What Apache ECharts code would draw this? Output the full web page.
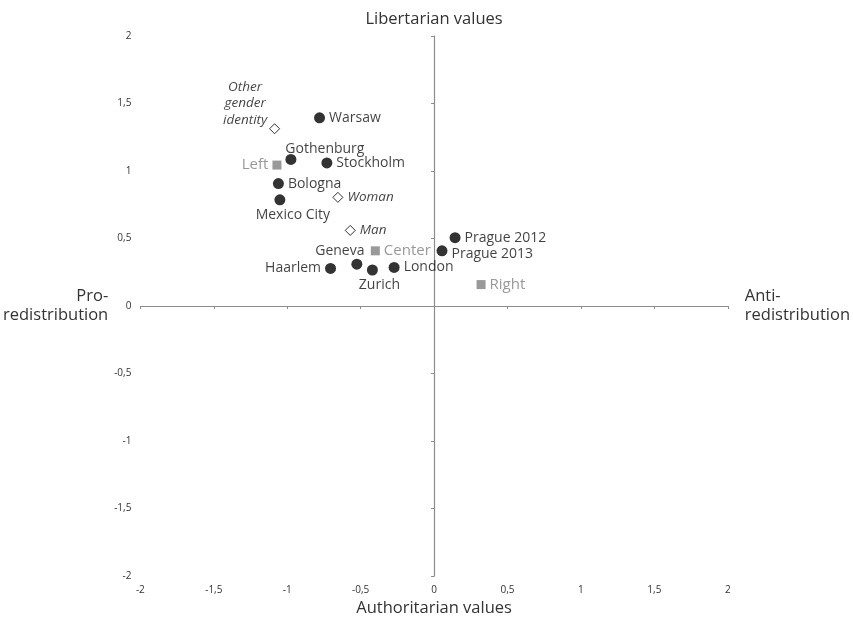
<!DOCTYPE html>
<html>
<head>
<meta charset="utf-8">
<script src="https://cdn.jsdelivr.net/npm/echarts@6/dist/echarts.min.js"></script>
<style>
html,body{margin:0;padding:0;background:#fff;}
#chart{position:absolute;left:0;top:0;width:853px;height:622px;}
</style>
</head>
<body>
<div id="chart"></div>
<script>
// ---- data ----
const cityNames = ["Warsaw","Gothenburg","Stockholm","Bologna","Mexico City","Haarlem","Geneva","Zurich","London","Prague 2012","Prague 2013"];
const cityX = [-0.78,-0.975,-0.73,-1.06,-1.05,-0.705,-0.526,-0.42,-0.272,0.143,0.054];
const cityY = [1.394,1.086,1.06,0.907,0.787,0.279,0.31,0.267,0.286,0.506,0.409];

const partyNames = ["Left","Center","Right"];
const partyX = [-1.07,-0.40,0.32];
const partyY = [1.044,0.409,0.159];

const genderNames = ["Other\ngender\nidentity","Woman","Man"];
const genderX = [-1.086,-0.655,-0.571];
const genderY = [1.313,0.805,0.56];

const axisMin = -2, axisMax = 2, axisStep = 0.5;

// ---- label layout (not data) ----
const labelLayout = {
  "Warsaw": {position:"right"},
  "Gothenburg": {position:"top", offset:[34,6]},
  "Stockholm": {position:"right"},
  "Bologna": {position:"right"},
  "Mexico City": {position:"bottom", offset:[13,-1]},
  "Haarlem": {position:"left"},
  "Geneva": {position:"top", offset:[-17,3]},
  "Zurich": {position:"bottom", offset:[7,-1]},
  "London": {position:"right"},
  "Prague 2012": {position:"right"},
  "Prague 2013": {position:"right", offset:[0,3]},
  "Left": {position:"left"},
  "Center": {position:"right"},
  "Right": {position:"right"},
  "Other\ngender\nidentity": {position:[-24,-20], align:"center", verticalAlign:"middle", lineHeight:16.5},
  "Woman": {position:"right"},
  "Man": {position:"right"}
};

function build(names, xs, ys){
  return names.map((n,i)=>{
    const lab = Object.assign({show:true}, labelLayout[n]||{});
    return {name:n, value:[xs[i], ys[i]], label:lab};
  });
}

const fontFam = "'Open Sans', 'DejaVu Sans', sans-serif";
const fmt = v => String(v).replace('.', ',');
const axisGray = '#8c8c8c';

const chart = echarts.init(document.getElementById('chart'));
chart.setOption({
  animation:false,
  backgroundColor:'#fff',
  grid:{left:140, width:588, top:36, height:545, containLabel:false},
  xAxis:[
    { type:'value', min:axisMin, max:axisMax, interval:axisStep, position:'bottom',
      axisLine:{show:false, onZero:false}, axisTick:{show:false}, splitLine:{show:false},
      axisLabel:{formatter:fmt, fontSize:10, color:'#333', margin:9, fontFamily:fontFam},
      name:'Authoritarian values', nameLocation:'middle', nameGap:22,
      nameTextStyle:{fontSize:16.5, color:'#333', fontFamily:fontFam}
    },
    { type:'value', min:axisMin, max:axisMax, interval:axisStep, position:'top',
      axisLine:{show:true, onZero:true, onZeroAxisIndex:0, lineStyle:{color:axisGray, width:1.2}},
      axisTick:{show:true, inside:true, length:3, lineStyle:{color:axisGray}},
      axisLabel:{show:false}, splitLine:{show:false},
      name:'Anti-\nredistribution', nameLocation:'end', nameGap:17,
      nameTextStyle:{fontSize:16.5, color:'#333', fontFamily:fontFam, align:'left', verticalAlign:'middle', lineHeight:19}
    }
  ],
  yAxis:[
    { type:'value', min:axisMin, max:axisMax, interval:axisStep, position:'left',
      axisLine:{show:false, onZero:false}, axisTick:{show:false}, splitLine:{show:false},
      axisLabel:{formatter:fmt, fontSize:10, color:'#333', margin:9, fontFamily:fontFam},
      name:'Pro-\nredistribution', nameLocation:'middle', nameGap:27, nameRotate:0,
      nameTextStyle:{fontSize:16.5, color:'#333', fontFamily:fontFam, align:'right', verticalAlign:'middle', lineHeight:19}
    },
    { type:'value', min:axisMin, max:axisMax, interval:axisStep, position:'right',
      axisLine:{show:true, onZero:true, onZeroAxisIndex:0, lineStyle:{color:axisGray, width:1.2}},
      axisTick:{show:true, inside:true, length:3, lineStyle:{color:axisGray}},
      axisLabel:{show:false}, splitLine:{show:false},
      name:'Libertarian values', nameLocation:'end', nameGap:8,
      nameTextStyle:{fontSize:16.5, color:'#333', fontFamily:fontFam}
    }
  ],
  series:[
    { type:'scatter', name:'Cities', xAxisIndex:0, yAxisIndex:0,
      symbol:'circle', symbolSize:11,
      itemStyle:{color:'#000'},
      label:{show:true, formatter:'{b}', fontSize:14, color:'#111', fontFamily:fontFam, distance:4},
      data: build(cityNames, cityX, cityY)
    },
    { type:'scatter', name:'Parties', xAxisIndex:0, yAxisIndex:0,
      symbol:'rect', symbolSize:9,
      itemStyle:{color:'#808080'},
      label:{show:true, formatter:'{b}', fontSize:15, color:'#808080', fontFamily:fontFam, distance:4},
      data: build(partyNames, partyX, partyY)
    },
    { type:'scatter', name:'Gender', xAxisIndex:0, yAxisIndex:0,
      symbol:'diamond', symbolSize:10,
      itemStyle:{color:'#fff', borderColor:'#000', borderWidth:1},
      label:{show:true, formatter:'{b}', fontSize:13.5, fontStyle:'italic', color:'#111', fontFamily:fontFam, distance:4},
      data: build(genderNames, genderX, genderY)
    }
  ]
});
</script>
</body>
</html>
